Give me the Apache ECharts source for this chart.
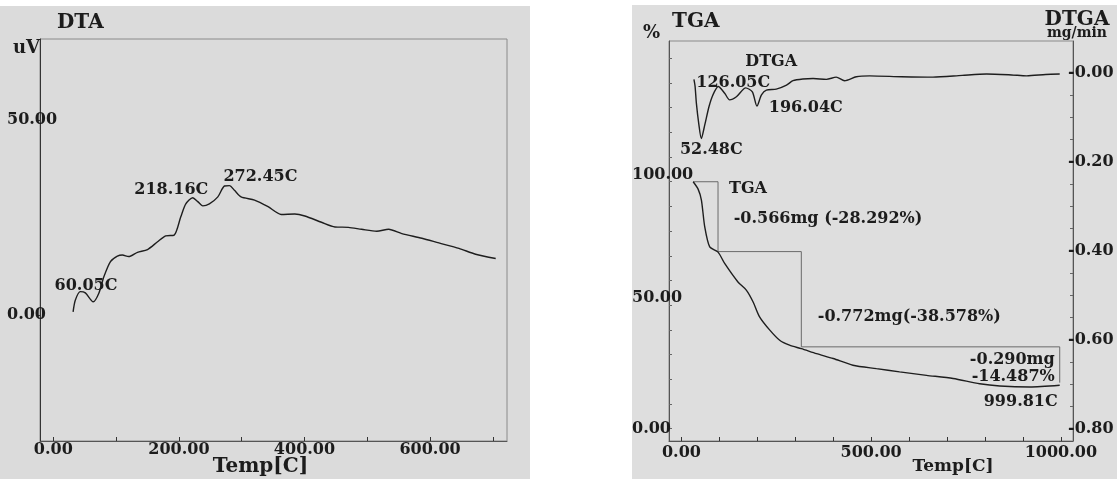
<!DOCTYPE html>
<html>
<head>
<meta charset="utf-8">
<script src="https://cdn.jsdelivr.net/npm/echarts@6/dist/echarts.min.js"></script>
<style>html,body{margin:0;padding:0;background:#fff}#c{width:1120px;height:479px}</style>
</head>
<body>
<div id="c"></div>
<script>
// ---------- DTA (left chart) ----------
const dtaTemp  = [31.5,35,43,51,63.5,72.5,80.5,91,102,110,120,134,150,166,179,192.5,203,211,222,230,238,248.5,262,272.5,280.5,288.5,299,320.5,342,363,384.5,400.5,427,448.5,470,491,515,534,555,587,614,646,672.5,704.5];
const dtaValue = [0.8,3.8,6,5.7,3.4,5.6,9.8,13.7,15.1,15.4,15,16.1,16.8,18.8,20.3,20.5,25.2,28.5,30.1,29.1,28,28.5,30.3,33.1,33.2,32,30.3,29.5,27.8,25.8,25.9,25.4,23.8,22.6,22.5,22,21.5,22,20.9,19.7,18.5,17.1,15.6,14.5];
const dtaPeakTemps  = [60.05, 218.16, 272.45];
const dtaPeakLabels = ['60.05C', '218.16C', '272.45C'];
const dtaXTicks  = [0,100,200,300,400,500,600,700];
const dtaXLabels = [0,200,400,600];
const dtaYLabels = [0,50];

// ---------- TGA / DTGA (right chart) ----------
const tgaTemp  = [31,44,52.7,61.4,74.6,96.5,114,149,171,189,206,233,259,285,316,356,400,452,514,575,646,716,786,839,918,997];
const tgaValue = [100,97,92.6,81.8,73.6,71.5,66.9,59.4,56.1,51.3,45.3,39.9,35.8,33.8,32.4,30.4,28.4,25.7,24.3,23,21.6,20.3,18.2,17.3,16.9,17.6];
const dtgaTemp  = [33,36,39.5,45.6,52.5,61.4,72.8,83,97,114,127,145,169.5,187,199,211,224,250,277,294,320,347,382,408,430,461,496,580,663,740,804,870,910,960,997];
const dtgaValue = [-0.015,-0.03,-0.069,-0.114,-0.148,-0.118,-0.076,-0.05,-0.031,-0.046,-0.061,-0.054,-0.034,-0.043,-0.075,-0.05,-0.039,-0.037,-0.028,-0.018,-0.014,-0.013,-0.015,-0.010,-0.018,-0.009,-0.007,-0.009,-0.010,-0.006,-0.003,-0.005,-0.007,-0.004,-0.003];
const stepTemps  = [31, 96.5, 316, 997];
const stepLevels = [100, 71.708, 33.13, 18.643];
const stepLabels = ['-0.566mg (-28.292%)', '-0.772mg(-38.578%)', '-0.290mg\n-14.487%'];
const dtgaPeakTemps  = [52.48, 126.05, 196.04];
const dtgaPeakLabels = ['52.48C', '126.05C', '196.04C'];
const endTempLabel = '999.81C';
const tgaXTicks  = [0,100,200,300,400,500,600,700,800,900,1000];
const tgaXLabels = [0,500,1000];
const tgaYLabelsUpper = [50,100];
const tgaYLabelsZero  = [0];
const tgaYTicks  = [0,10,20,30,40,50,60,70,80,90,100,110,120,130,140,150];
const dtgaYLabels = [0,-0.2,-0.4,-0.6,-0.8];
const dtgaYTicks  = [0,-0.05,-0.1,-0.15,-0.2,-0.25,-0.3,-0.35,-0.4,-0.45,-0.5,-0.55,-0.6,-0.65,-0.7,-0.75,-0.8];

function interp(t, xs, ys){
  for(let i=1;i<xs.length;i++){
    if(t<=xs[i]){const f=(t-xs[i-1])/(xs[i]-xs[i-1]);return ys[i-1]+f*(ys[i]-ys[i-1]);}
  }
  return ys[ys.length-1];
}
const zip=(a,b)=>a.map((v,i)=>[v,b[i]]);
const stepData=[];
for(let i=0;i<stepLevels.length;i++){
  if(i>0) stepData.push([stepTemps[i],stepLevels[i]]);
  if(i<stepLevels.length-1) stepData.push([stepTemps[i],stepLevels[i]], [stepTemps[i+1],stepLevels[i]]);
}

const FONT='DejaVu Serif';
const TXT='#1c1c1c';
const txt=(size,extra)=>Object.assign({fontFamily:FONT,fontWeight:'bold',fontSize:size,color:TXT},extra||{});

const dtaOffsets=[[-5,-13],[-19,-10],[36,-9]];
const dtgaOffsets=[[10,11],[4,-17],[50,5]];

const chart=echarts.init(document.getElementById('c'),null,{renderer:'canvas'});
chart.setOption({
  animation:false,
  backgroundColor:'#ffffff',
  graphic:[
    {type:'rect',z:-10,silent:true,shape:{x:0,y:6,width:530,height:473},style:{fill:'#dbdbdb'}},
    {type:'rect',z:-10,silent:true,shape:{x:632,y:5,width:485,height:474},style:{fill:'#dedede'}}
  ],
  title:[
    {text:'DTA',left:57,top:13,padding:0,textStyle:txt(20)},
    {text:'TGA',left:672,top:12,padding:0,textStyle:txt(20)}
  ],
  grid:[
    {left:40,top:39,width:467,height:402,outerBoundsMode:'none',containLabel:false,show:true,borderColor:'#8a8a8a',borderWidth:1,backgroundColor:'transparent'},
    {left:669,top:41,width:404,height:400,outerBoundsMode:'none',containLabel:false,show:true,borderColor:'#8a8a8a',borderWidth:1,backgroundColor:'transparent'}
  ],
  xAxis:[
    {type:'value',gridIndex:0,min:-21.2,max:722.5,
     axisLine:{show:true,onZero:false,lineStyle:{color:'#555',width:1}},
     axisTick:{show:true,inside:true,length:4,customValues:dtaXTicks,lineStyle:{color:'#333'}},
     axisLabel:{customValues:dtaXLabels,margin:1,formatter:v=>v.toFixed(2),...txt(16)},
     splitLine:{show:false},
     name:'Temp[C]',nameLocation:'middle',nameGap:26,nameMoveOverlap:false,
     nameTextStyle:txt(20,{verticalAlign:'middle',padding:[0,26,0,0]})},
    {type:'value',gridIndex:1,min:-32.7,max:1032,
     axisLine:{show:true,onZero:false,lineStyle:{color:'#555',width:1}},
     axisTick:{show:true,inside:true,length:4,customValues:tgaXTicks,lineStyle:{color:'#333'}},
     axisLabel:{customValues:tgaXLabels,margin:4,formatter:v=>v.toFixed(2),...txt(16)},
     splitLine:{show:false},
     name:'Temp[C]',nameLocation:'middle',nameGap:26,nameMoveOverlap:false,
     nameTextStyle:txt(17,{verticalAlign:'middle',padding:[0,0,0,164]})}
  ],
  yAxis:[
    {type:'value',gridIndex:0,min:-32.3,max:70.8,
     axisLine:{show:true,onZero:false,lineStyle:{color:'#333',width:1}},
     axisTick:{show:true,inside:false,length:4,customValues:dtaYLabels,lineStyle:{color:'#333'}},
     axisLabel:{customValues:dtaYLabels,margin:33,align:'left',formatter:v=>v.toFixed(2),...txt(16)},
     splitLine:{show:false},
     name:'uV',nameLocation:'end',nameGap:-9,nameTextStyle:txt(18,{align:'right',verticalAlign:'middle'})},
    {type:'value',gridIndex:1,min:-5,max:157,
     axisLine:{show:true,onZero:false,lineStyle:{color:'#555',width:1}},
     axisTick:{show:true,inside:true,length:3,customValues:tgaYTicks,lineStyle:{color:'#666'}},
     axisLabel:{customValues:tgaYLabelsUpper,margin:37,align:'left',verticalAlign:'bottom',lineHeight:14,formatter:v=>v.toFixed(2),...txt(16)},
     splitLine:{show:false},
     name:'%',nameLocation:'end',nameGap:8,nameTextStyle:txt(18,{align:'right',verticalAlign:'middle',padding:[0,9,0,0]})},
    {type:'value',gridIndex:1,position:'right',min:-0.828,max:0.0713,
     axisLine:{show:true,onZero:false,lineStyle:{color:'#555',width:1}},
     axisTick:{show:true,inside:true,length:3,customValues:dtgaYTicks,lineStyle:{color:'#666'}},
     axisLabel:{customValues:dtgaYLabels,margin:-5,formatter:v=>'-'+Math.abs(v).toFixed(2),...txt(16)},
     splitLine:{show:false},
     name:'{a|DTGA}\n{b|mg/min}',nameLocation:'end',nameGap:1,
     nameTextStyle:{align:'center',verticalAlign:'bottom',padding:[0,0,0,8],
       rich:{a:txt(20,{lineHeight:14}),b:txt(14,{lineHeight:13})}}},
    {type:'value',gridIndex:1,position:'left',min:-5,max:157,
     axisLine:{show:false,onZero:false},axisTick:{show:false},
     axisLabel:{customValues:tgaYLabelsZero,margin:37,align:'left',verticalAlign:'middle',formatter:v=>v.toFixed(2),...txt(16)},
     splitLine:{show:false}}
  ],
  series:[
    {type:'line',name:'DTA',xAxisIndex:0,yAxisIndex:0,data:zip(dtaTemp,dtaValue),
     smooth:0.25,showSymbol:false,lineStyle:{color:'#1e1e1e',width:1.4},
     markPoint:{symbol:'circle',symbolSize:0,
       label:{show:true,position:'inside',formatter:'{b}',...txt(16)},
       data:dtaPeakTemps.map((t,i)=>({name:dtaPeakLabels[i],coord:[t,interp(t,dtaTemp,dtaValue)],label:{offset:dtaOffsets[i]}}))}},
    {type:'line',name:'Step',xAxisIndex:1,yAxisIndex:1,data:stepData,
     showSymbol:false,lineStyle:{color:'#6a6a6a',width:1},
     markPoint:{symbol:'circle',symbolSize:0,
       label:{show:true,position:'inside',formatter:'{b}',...txt(16)},
       data:[
         {name:'TGA',coord:[stepTemps[1],stepLevels[0]],label:{offset:[30,7]}},
         {name:stepLabels[0],coord:[stepTemps[1],stepLevels[1]],label:{offset:[110,-33]}},
         {name:stepLabels[1],coord:[stepTemps[2],stepLevels[2]],label:{offset:[108,-30]}},
         {name:stepLabels[2],coord:[stepTemps[3],stepLevels[2]],label:{align:'right',lineHeight:17,offset:[-5,21]}},
         {name:endTempLabel,coord:[stepTemps[3],stepLevels[3]],label:{offset:[-39,19]}}
       ]}},
    {type:'line',name:'TGA',xAxisIndex:1,yAxisIndex:1,data:zip(tgaTemp,tgaValue),
     smooth:0.25,showSymbol:false,lineStyle:{color:'#1e1e1e',width:1.4}},
    {type:'line',name:'DTGA',xAxisIndex:1,yAxisIndex:2,data:zip(dtgaTemp,dtgaValue),
     smooth:0.25,showSymbol:false,lineStyle:{color:'#1e1e1e',width:1.4},
     markPoint:{symbol:'circle',symbolSize:0,
       label:{show:true,position:'inside',formatter:'{b}',...txt(16)},
       data:dtgaPeakTemps.map((t,i)=>({name:dtgaPeakLabels[i],coord:[t,interp(t,dtgaTemp,dtgaValue)],label:{offset:dtgaOffsets[i]}}))
         .concat([{name:'DTGA',coord:[250,interp(250,dtgaTemp,dtgaValue)],label:{offset:[-5,-27]}}])}}
  ]
});
</script>
</body>
</html>
